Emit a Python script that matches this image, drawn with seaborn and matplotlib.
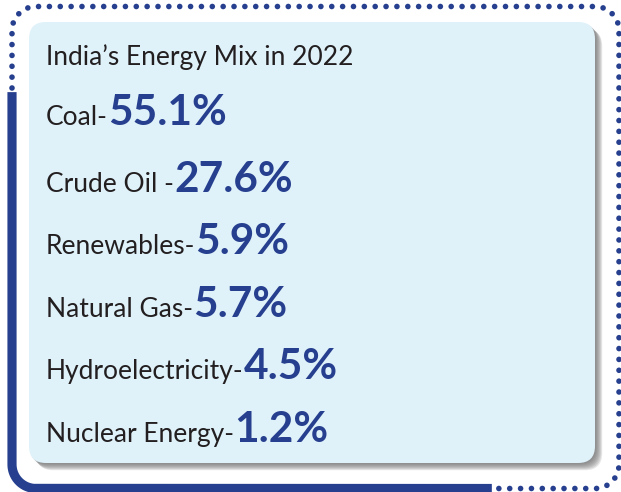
import numpy as np
import matplotlib
matplotlib.use("Agg")
import matplotlib.pyplot as plt
from matplotlib.patches import FancyBboxPatch
import seaborn as sns

# content
title = "India\u2019s Energy Mix in 2022"
sources = ["Coal-", "Crude Oil -", "Renewables-", "Natural Gas-", "Hydroelectricity-", "Nuclear Energy-"]
shares = [55.1, 27.6, 5.9, 5.7, 4.5, 1.2]

# colours
navy = "#263f8e"
ink = "#231f20"
panel = "#dff2fa"

sns.set_theme(style="white")
plt.rcParams["font.family"] = ["Lato", "DejaVu Sans"]

W, H = 621, 492
fig = plt.figure(figsize=(W / 100, H / 100), dpi=100)
ax = fig.add_axes([0, 0, 1, 1])
ax.set_xlim(0, W)
ax.set_ylim(H, 0)
ax.axis("off")


def rounded_path(x0, y0, x1, y1, r, n=40):
    # clockwise (screen coords), starting at top of left side
    def arc(cx, cy, a0, a1):
        t = np.linspace(np.radians(a0), np.radians(a1), n)
        return np.column_stack([cx + r * np.cos(t), cy + r * np.sin(t)])
    p = np.vstack([arc(x0 + r, y0 + r, 180, 270),
                   arc(x1 - r, y0 + r, 270, 360),
                   arc(x1 - r, y1 - r, 0, 90),
                   arc(x0 + r, y1 - r, 90, 180)])
    return np.vstack([p, p[:1]])


N = 40
R = 24
x0, y0, x1, y1 = 12, 6.5, 619, 488.5
outer = rounded_path(x0, y0, x1, y1, R, N)
L = np.concatenate([[0], np.cumsum(np.hypot(*np.diff(outer, axis=0).T))])

s_solid_top = L[-1] - (92 - (y0 + R))          # left side at y=92
s_bottom_start = L[3 * N - 1]                  # end of bottom-right arc
s_solid_start = s_bottom_start + ((x1 - R) - 492)  # bottom at x=492

dense_t = np.linspace(0, L[-1], 6000)
dense = np.column_stack([np.interp(dense_t, L, outer[:, 0]), np.interp(dense_t, L, outer[:, 1])])

# solid frame on left/bottom
mask = (dense_t >= s_solid_start) & (dense_t <= s_solid_top)
ax.plot(dense[mask, 0], dense[mask, 1], color=navy, lw=6.6, solid_capstyle="butt", zorder=3)

# dotted frame for the rest
dot_len = (L[-1] - s_solid_top) + s_solid_start
n_dots = int(dot_len // 10.8)
spacing = dot_len / n_dots
ss = np.mod(s_solid_top + 4 + np.arange(n_dots) * spacing, L[-1])
keep = ~((ss > s_solid_start - 4) & (ss < s_solid_top + 2))
sns.scatterplot(x=np.interp(ss, L, outer[:, 0])[keep], y=np.interp(ss, L, outer[:, 1])[keep],
                s=16, color=navy, edgecolor="none", ax=ax, zorder=3)

# panel shadow
for i in range(8, 0, -1):
    sh = FancyBboxPatch((29 + i * 0.9, 22 + i * 0.9), 566, 441,
                        boxstyle="round,pad=0,rounding_size=17",
                        fc="#6f6f6f", ec="none", alpha=0.16, zorder=1)
    ax.add_patch(sh)

box = FancyBboxPatch((29, 22), 566, 441, boxstyle="round,pad=0,rounding_size=17",
                     fc=panel, ec="none", zorder=2)
ax.add_patch(box)

# text
ax.text(46, 65, title, fontsize=19, color=ink, va="baseline", ha="left", zorder=4)

baselines = [125, 192, 254, 317, 379, 442]
fig.canvas.draw()
renderer = fig.canvas.get_renderer()
for name, val, yb in zip(sources, shares, baselines):
    t = ax.text(46, yb, name, fontsize=19, color=ink, va="baseline", ha="left", zorder=4)
    bb = t.get_window_extent(renderer=renderer)
    x_end = ax.transData.inverted().transform((bb.x1, bb.y0))[0]
    ax.text(x_end, yb, f"{val}%", fontsize=30.5, fontweight="bold", color=navy,
            va="baseline", ha="left", zorder=4)

fig.savefig("out.png", dpi=100)
